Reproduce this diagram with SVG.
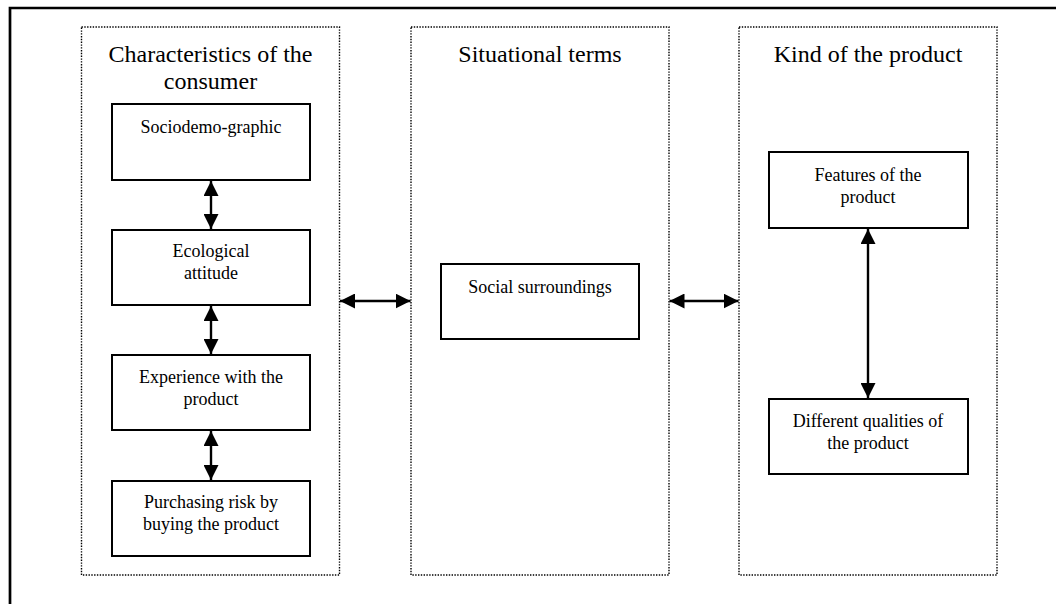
<svg xmlns="http://www.w3.org/2000/svg" width="1056" height="604" viewBox="0 0 1056 604">
  <style>
    .frame { fill: none; stroke: #000; stroke-width: 2.7; }
    .panel { fill: none; stroke: #000; stroke-width: 1.4; stroke-dasharray: 1.4 1.4; }
    .box { fill: #fff; stroke: #000; stroke-width: 2; }
    .title { font-family: "Liberation Serif", "Times New Roman", serif; font-size: 24px; fill: #000; text-anchor: middle; }
    .lbl { font-family: "Liberation Serif", "Times New Roman", serif; font-size: 18px; fill: #000; text-anchor: middle; }
    .conn { fill: none; stroke: #000; stroke-width: 2.4; marker-start: url(#ah); marker-end: url(#ah); }
  </style>
  <defs>
    <marker id="ah" markerUnits="userSpaceOnUse" markerWidth="15" markerHeight="15" refX="15" refY="7.5" orient="auto-start-reverse" viewBox="0 0 15 15">
      <path d="M0,0 L15,7.5 L0,15 z" fill="#000"/>
    </marker>
  </defs>
  <rect width="1056" height="604" fill="#fff"/>
  <g id="frame">
    <path class="frame" d="M10,604 L10,8 L1056,8"/>
  </g>

  <g id="panel-consumer">
    <rect class="panel" x="81.5" y="27" width="258" height="548"/>
    <text class="title" x="210.5" y="61.7">Characteristics of the</text>
    <text class="title" x="210.5" y="89">consumer</text>
  </g>
  <g id="panel-situational">
    <rect class="panel" x="411" y="27" width="258" height="548"/>
    <text class="title" x="540" y="61.5">Situational terms</text>
  </g>
  <g id="panel-product">
    <rect class="panel" x="739" y="27" width="258" height="548"/>
    <text class="title" x="868" y="61.5">Kind of the product</text>
  </g>

  <g id="node-sociodemographic">
    <rect class="box" x="112" y="104" width="198" height="76"/>
    <text class="lbl" x="211" y="132.7">Sociodemo-graphic</text>
  </g>
  <g id="node-ecological">
    <rect class="box" x="112" y="230" width="198" height="75"/>
    <text class="lbl" x="211" y="257.3">Ecological</text>
    <text class="lbl" x="211" y="279.3">attitude</text>
  </g>
  <g id="node-experience">
    <rect class="box" x="112" y="355" width="198" height="75"/>
    <text class="lbl" x="211" y="382.7">Experience with the</text>
    <text class="lbl" x="211" y="404.5">product</text>
  </g>
  <g id="node-purchasing">
    <rect class="box" x="112" y="481" width="198" height="75"/>
    <text class="lbl" x="211" y="508.3">Purchasing risk by</text>
    <text class="lbl" x="211" y="530">buying the product</text>
  </g>
  <g id="node-social">
    <rect class="box" x="441" y="264" width="198" height="75"/>
    <text class="lbl" x="540" y="292.7">Social surroundings</text>
  </g>
  <g id="node-features">
    <rect class="box" x="769" y="152" width="199" height="76"/>
    <text class="lbl" x="868" y="181">Features of the</text>
    <text class="lbl" x="868" y="202.5">product</text>
  </g>
  <g id="node-qualities">
    <rect class="box" x="769" y="399" width="199" height="75"/>
    <text class="lbl" x="868" y="427.3">Different qualities of</text>
    <text class="lbl" x="868" y="449">the product</text>
  </g>

  <g id="connectors">
    <line class="conn" x1="211" y1="181" x2="211" y2="229"/>
    <line class="conn" x1="211" y1="306" x2="211" y2="354"/>
    <line class="conn" x1="211" y1="431" x2="211" y2="480"/>
    <line class="conn" x1="340" y1="301" x2="410.5" y2="301"/>
    <line class="conn" x1="669.5" y1="301" x2="738.5" y2="301"/>
    <line class="conn" x1="868" y1="229" x2="868" y2="398"/>
  </g>
</svg>
